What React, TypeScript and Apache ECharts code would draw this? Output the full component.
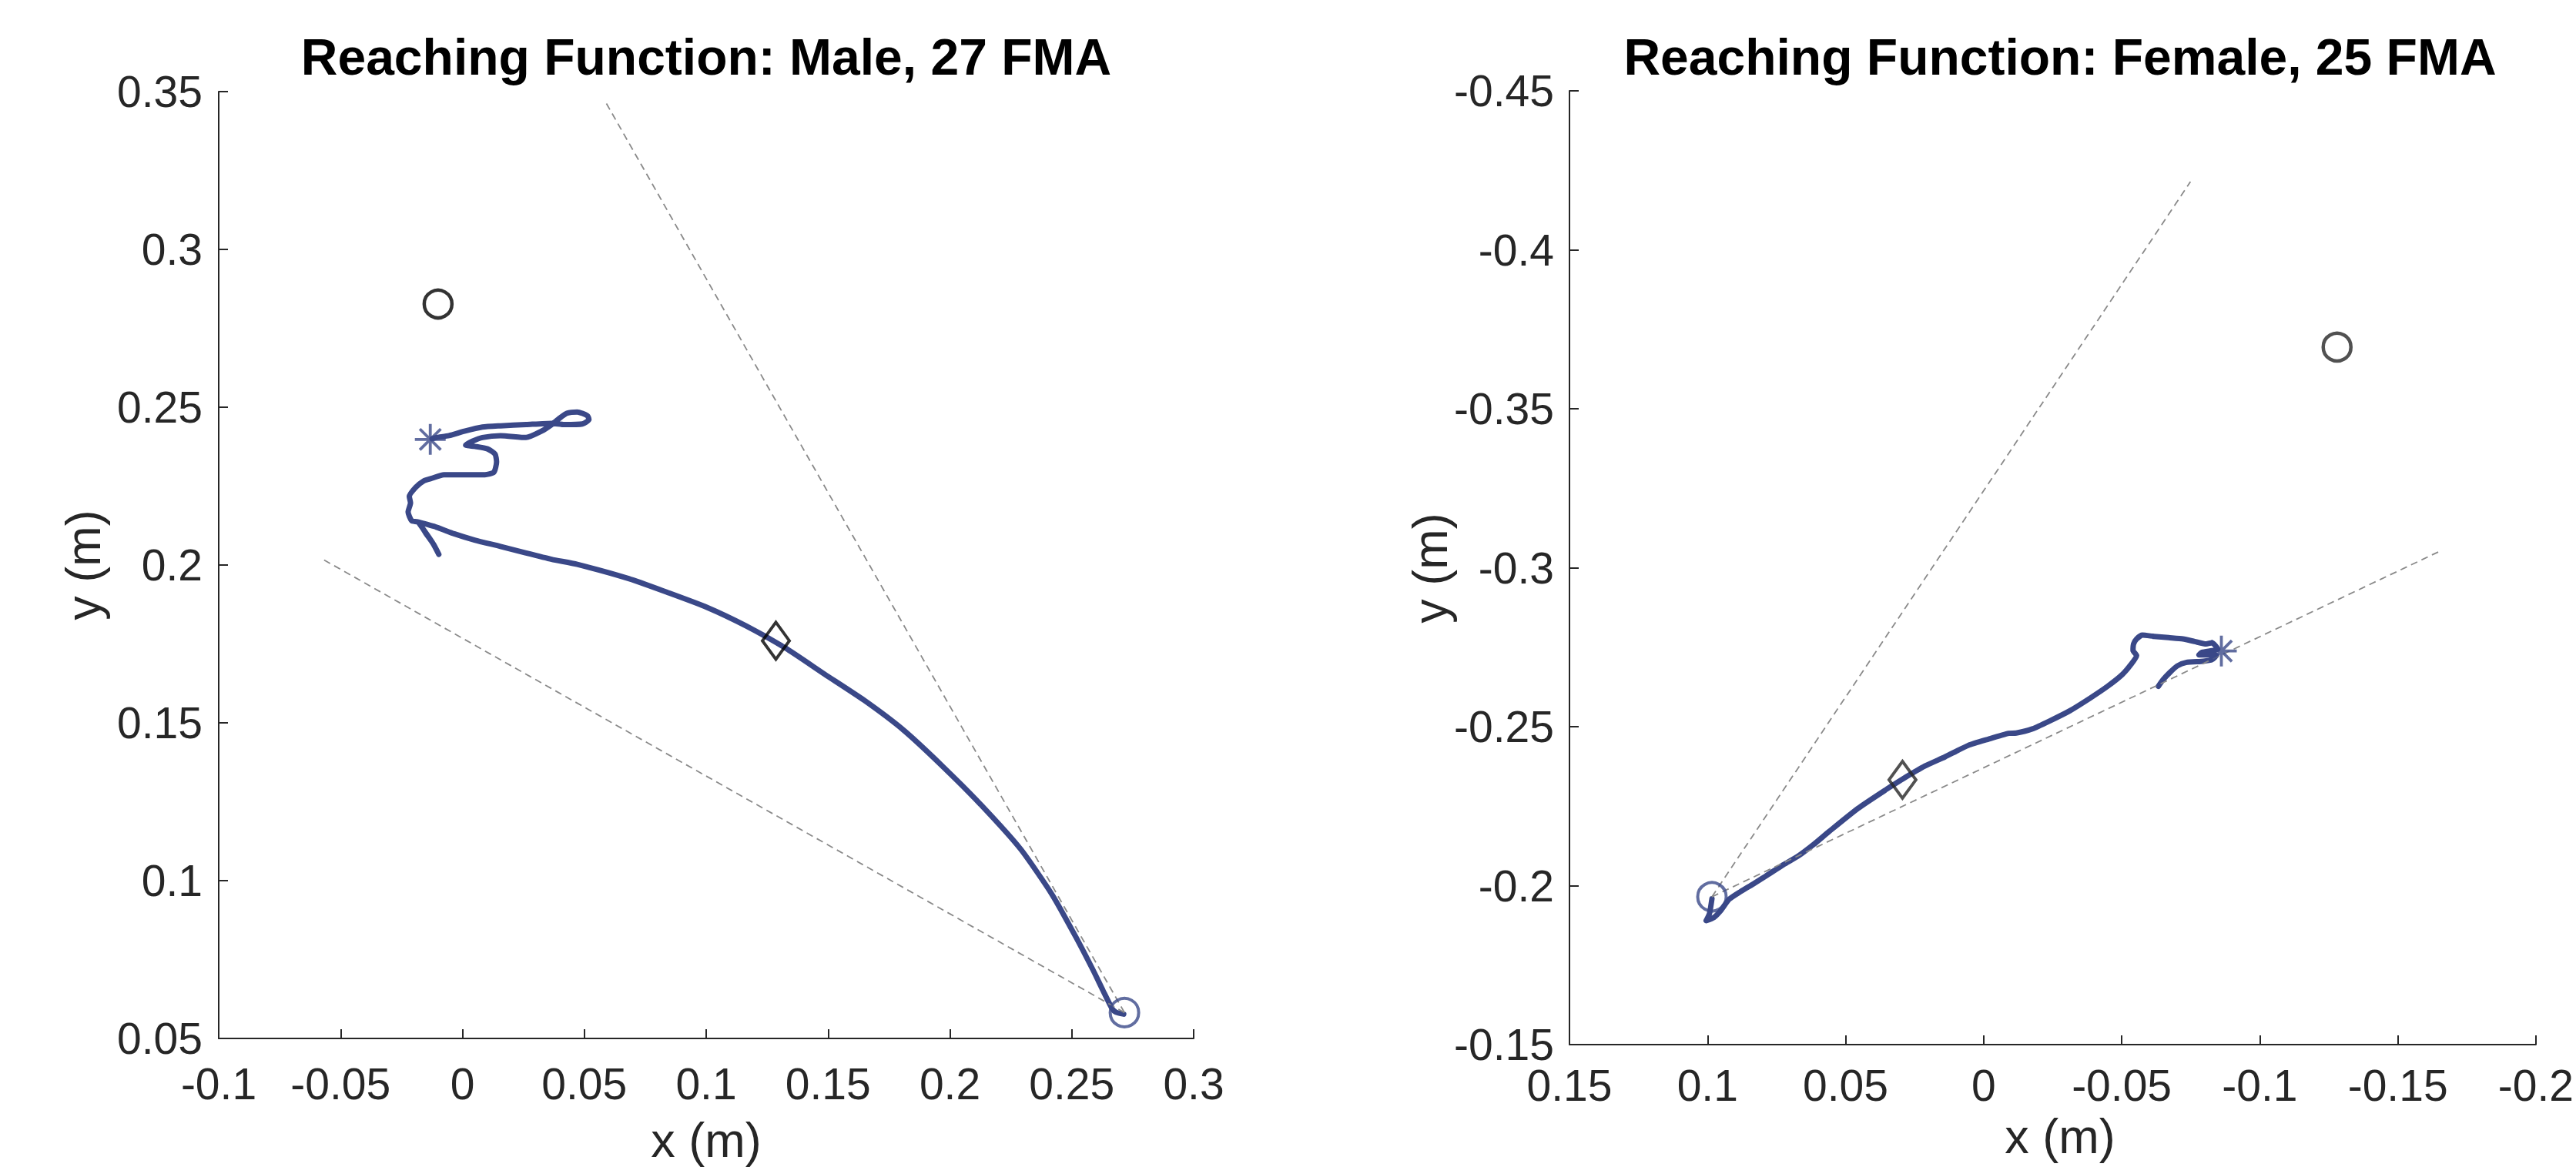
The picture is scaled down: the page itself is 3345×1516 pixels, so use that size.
import React, { useEffect, useRef } from "react";
import * as echarts from "echarts";

const W = 3345;
const H = 1516;

const BLUE = "#3a4888";
const GUIDE = "#8a8a8a";
const AXIS = "#262626";

// ---------- Male, 27 FMA ----------
const maleTitle = "Reaching Function: Male, 27 FMA";
const maleTrajX = [
  0.2713, 0.2681, 0.2665, 0.2628, 0.2587, 0.2517, 0.2419, 0.2291, 0.213, 0.1969,
  0.1808, 0.1647, 0.1486, 0.1325, 0.1164, 0.1003, 0.0842, 0.0682, 0.0471, 0.0366,
  0.0261, 0.0156, 0.005, -0.0034, -0.0107, -0.0181, -0.0144, -0.0119, -0.0097,
  -0.0119, -0.015, -0.0181, -0.0208, -0.0223, -0.0213, -0.0218, -0.0192, -0.016,
  -0.0129, -0.0076, -0.0002, 0.0092, 0.0129, 0.014, 0.0134, 0.0103, 0.005, 0.0013,
  0.004, 0.0082, 0.0156, 0.0261, 0.0324, 0.0366, 0.0398, 0.0429, 0.0471, 0.0513,
  0.0519, 0.0492, 0.0418, 0.0366, 0.0261, 0.0156, 0.0082, 0.0008, -0.0055, -0.0107,
  -0.0125,
];
const maleTrajY = [
  0.0577, 0.0583, 0.0595, 0.0652, 0.0717, 0.0821, 0.0956, 0.1099, 0.1238, 0.1363,
  0.1478, 0.1572, 0.1654, 0.1737, 0.1807, 0.1866, 0.1913, 0.1957, 0.2002, 0.2018,
  0.2038, 0.2059, 0.2079, 0.2099, 0.212, 0.2136, 0.2095, 0.2066, 0.2034,
  0.2066, 0.21, 0.2136, 0.214, 0.2168, 0.2197, 0.2217, 0.2246, 0.2266,
  0.2274, 0.2286, 0.2286, 0.2286, 0.2294, 0.2327, 0.2351, 0.2368, 0.2376, 0.238,
  0.2392, 0.2404, 0.241, 0.2404, 0.2424, 0.2445, 0.2465, 0.2481, 0.2485, 0.2473,
  0.2461, 0.2447, 0.2445, 0.2449, 0.2445, 0.2441, 0.2437, 0.2424, 0.241, 0.2404,
  0.24,
];
const maleStart = [0.2716, 0.0582];
const maleTarget = [-0.01, 0.2827];
const maleMid = [0.1286, 0.176];
const maleStar = [-0.0132, 0.2398];
const maleGuideA = [[0.2716, 0.0582], [0.0585, 0.347]];
const maleGuideB = [[0.2716, 0.0582], [-0.0577, 0.202]];
const maleXRange = [-0.1, 0.3];
const maleYRange = [0.05, 0.35];

// ---------- Female, 25 FMA ----------
const femaleTitle = "Reaching Function: Female, 25 FMA";
const femaleTrajX = [
  0.0984, 0.0993, 0.1005, 0.0977, 0.095, 0.0922, 0.0881, 0.0835, 0.0789, 0.0725,
  0.067, 0.0615, 0.056, 0.0455, 0.035, 0.0292, 0.0213, 0.014, 0.0056, -0.0018,
  -0.0091, -0.0118, -0.0176, -0.0239, -0.0312, -0.0386, -0.0449, -0.0501, -0.0533,
  -0.0554, -0.0541, -0.0543, -0.0554, -0.0575, -0.0617, -0.067, -0.0722, -0.0764,
  -0.0806, -0.0827, -0.0848, -0.0791, -0.078, -0.0806, -0.0843, -0.0827, -0.0796,
  -0.0733, -0.0701, -0.0675, -0.0649, -0.0633,
];
const femaleTrajY = [
  -0.1959, -0.1912, -0.189, -0.19, -0.1924, -0.1957, -0.1981, -0.2005, -0.203, -0.2066,
  -0.2094, -0.213, -0.217, -0.2243, -0.2304, -0.2336, -0.2376, -0.2405, -0.2441, -0.2461,
  -0.2479, -0.248, -0.2493, -0.2518, -0.255, -0.259, -0.2627, -0.2663, -0.2695,
  -0.2724, -0.274, -0.276, -0.2776, -0.2788, -0.2784, -0.278, -0.2776, -0.2768,
  -0.276, -0.2764, -0.2744, -0.2734, -0.2726, -0.2726, -0.2724, -0.2711, -0.2706,
  -0.2702, -0.2691, -0.2671, -0.2647, -0.2627,
];
const femaleStart = [0.0984, -0.1965];
const femaleTarget = [-0.128, -0.3694];
const femaleMid = [0.0294, -0.2333];
const femaleStar = [-0.0861, -0.2738];
const femaleGuideA = [[0.0984, -0.1965], [-0.0749, -0.4214]];
const femaleGuideB = [[0.0984, -0.1965], [-0.165, -0.3051]];
const femaleXRange = [-0.2, 0.15];
const femaleYRange = [-0.45, -0.15];

const TICK_STEP = 0.05;
const axisLabelText = ["x (m)", "y (m)"];

const ASTERISK = "path://M0,5L10,5M5,0L5,10M1.6,1.6L8.4,8.4M8.4,1.6L1.6,8.4";

const fmt = (v: number) => String(parseFloat(v.toFixed(3)));

function makeAxis(range: number[], inverse: boolean, margin: number, gridIndex: number) {
  return {
    type: "value",
    gridIndex,
    min: range[0],
    max: range[1],
    interval: TICK_STEP,
    inverse,
    axisLine: { show: true, onZero: false, lineStyle: { color: AXIS, width: 2 } },
    axisTick: { show: true, inside: true, length: 12, lineStyle: { color: AXIS, width: 2 } },
    axisLabel: {
      show: true,
      margin,
      fontFamily: "Liberation Sans",
      fontSize: 57,
      color: AXIS,
      showMinLabel: true,
      showMaxLabel: true,
      formatter: fmt,
    },
    splitLine: { show: false },
  };
}

function zip(xs: number[], ys: number[]) {
  return xs.map((x, i) => [x, ys[i]]);
}

function panelSeries(
  idx: number,
  tx: number[],
  ty: number[],
  gA: number[][],
  gB: number[][],
  start: number[],
  target: number[],
  mid: number[],
  star: number[],
  dark: string
) {
  const base = { xAxisIndex: idx, yAxisIndex: idx, silent: true };
  const hollow = (color: string, w: number) => ({
    color: "rgba(0,0,0,0)",
    borderColor: color,
    borderWidth: w,
  });
  return [
    {
      ...base,
      type: "line",
      data: zip(tx, ty),
      symbol: "none",
      showSymbol: false,
      smooth: 0.2,
      lineStyle: { color: BLUE, width: 7, cap: "round", join: "round" },
      z: 2,
    },
    {
      ...base,
      type: "line",
      data: gA,
      symbol: "none",
      lineStyle: { color: GUIDE, width: 1.8, type: [9, 6] },
      z: 3,
    },
    {
      ...base,
      type: "line",
      data: gB,
      symbol: "none",
      lineStyle: { color: GUIDE, width: 1.8, type: [9, 6] },
      z: 3,
    },
    {
      ...base,
      type: "scatter",
      data: [start],
      symbol: "circle",
      symbolSize: 37,
      itemStyle: hollow(BLUE, 4),
      z: 4,
    },
    {
      ...base,
      type: "scatter",
      data: [target],
      symbol: "circle",
      symbolSize: 36,
      itemStyle: hollow(dark, 4.5),
      z: 4,
    },
    {
      ...base,
      type: "scatter",
      data: [mid],
      symbol: "diamond",
      symbolSize: [35, 48],
      itemStyle: hollow(dark, 4),
      z: 4,
    },
    {
      ...base,
      type: "scatter",
      data: [star],
      symbol: ASTERISK,
      symbolSize: 40,
      itemStyle: hollow(BLUE, 3.8),
      z: 4,
    },
  ];
}

function textEl(text: string, x: number, y: number, size: number, bold: boolean, color: string, rot = 0) {
  return {
    type: "text",
    x,
    y,
    rotation: rot,
    silent: true,
    style: {
      text,
      fontSize: size,
      fontWeight: bold ? "bold" : "normal",
      fontFamily: "Liberation Sans",
      fill: color,
      align: "center",
      verticalAlign: "middle",
    },
  };
}

export default function App() {
  const ref = useRef<HTMLDivElement>(null);

  useEffect(() => {
    if (!ref.current) return;
    const chart = echarts.init(ref.current, undefined, { renderer: "svg", width: W, height: H });
    const option = {
      animation: false,
      backgroundColor: "#ffffff",
      grid: [
        { left: 284, top: 119, width: 1266, height: 1230 },
        { left: 2038, top: 118, width: 1274, height: 1239 },
      ],
      xAxis: [
        makeAxis(maleXRange, false, 30, 0),
        makeAxis(femaleXRange, true, 24, 1),
      ],
      yAxis: [
        makeAxis(maleYRange, false, 21, 0),
        makeAxis(femaleYRange, true, 20, 1),
      ],
      series: [
        ...panelSeries(0, maleTrajX, maleTrajY, maleGuideA, maleGuideB, maleStart, maleTarget, maleMid, maleStar, "#000000"),
        ...panelSeries(1, femaleTrajX, femaleTrajY, femaleGuideA, femaleGuideB, femaleStart, femaleTarget, femaleMid, femaleStar, "#262626"),
      ],
      graphic: [
        textEl(maleTitle, 917, 74, 66, true, "#000000"),
        textEl(femaleTitle, 2675, 74, 66, true, "#000000"),
        textEl(axisLabelText[0], 917, 1481, 63, false, AXIS),
        textEl(axisLabelText[0], 2675, 1476, 63, false, AXIS),
        textEl(axisLabelText[1], 108, 734, 63, false, AXIS, Math.PI / 2),
        textEl(axisLabelText[1], 1857, 738, 63, false, AXIS, Math.PI / 2),
      ],
    };
    chart.setOption(option as any);
    return () => chart.dispose();
  }, []);

  return (
    <div
      ref={ref}
      style={{ position: "fixed", left: 0, top: 0, width: W, height: H, background: "#fff" }}
    />
  );
}
